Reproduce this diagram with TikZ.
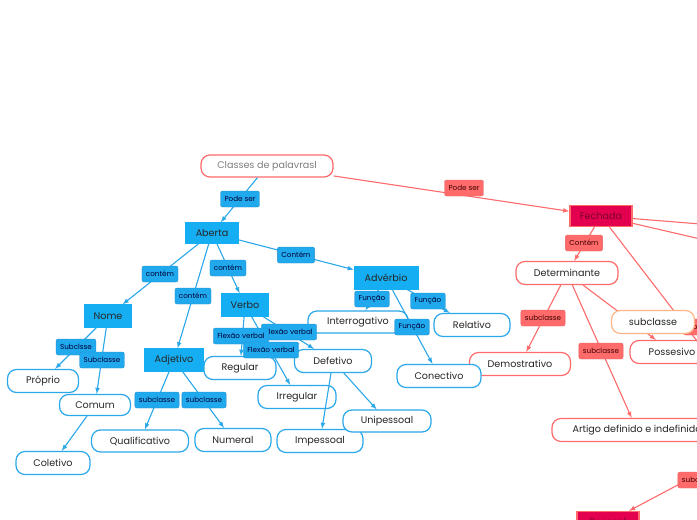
\documentclass[tikz,border=0pt]{standalone}
\usepackage{fontspec}
\setmainfont{Poppins}
\definecolor{bluefill}{HTML}{16AEF2}
\definecolor{blueline}{HTML}{2AA8EA}
\definecolor{bluetag}{HTML}{21A9EE}
\definecolor{redline}{HTML}{FF6B6B}
\definecolor{crimson}{HTML}{E3004F}
\definecolor{orangeline}{HTML}{FFB585}
\definecolor{darktext}{HTML}{262626}

\begin{document}
\begin{tikzpicture}[x=1pt,y=-1pt,
    every node/.style={font=\fontsize{9.6}{11}\selectfont, text=darktext, inner sep=2pt, minimum height=23pt},
    boxblue/.style={fill=bluefill, draw=bluefill},
    boxcrimson/.style={fill=crimson, draw=redline, line width=1.4pt, text=crimson!55!black},
    pillblue/.style={draw=blueline, fill=white, line width=1.2pt, rounded corners=9pt},
    pillred/.style={draw=redline, fill=white, line width=1.2pt, rounded corners=9pt},
    tagblue/.style={fill=bluetag, draw=blueline!85!black, line width=0.3pt, rounded corners=2pt,
        font=\fontsize{7.2}{8}\selectfont, text=black!80!blue, minimum height=16pt, inner xsep=4pt},
    tagred/.style={tagblue, fill=redline, draw=redline!90!black, text=red!25!black},
    tagorange/.style={pillred, draw=orangeline},
    linkblue/.style={draw=blueline, line width=1.1pt, -latex},
    linkred/.style={draw=redline, line width=1.1pt, -latex}]

  % page
  \useasboundingbox (0,0) rectangle (697,520);
  \fill[white] (0,0) rectangle (697,520);
  \clip (0,0) rectangle (697,520);

  % root and closed class
  \node[pillred, minimum width=132pt, minimum height=22pt, text=black!50] (classes) at (267,166) {Classes de palavrasl};
  \node[pillred, minimum width=102pt] (determinante) at (567,273) {Determinante};
  \node[pillred, minimum width=101pt] (demostrativo) at (520,364) {Demostrativo};
  \node[pillred, minimum width=84pt] (possesivo) at (672,352) {Possesivo};
  \node[pillred, minimum width=170pt] (artigo) at (637,430) {Artigo definido e indefinido};
  \node[boxcrimson, minimum width=62pt, minimum height=21pt] (fechada) at (601,216) {Fechada};
  \node[boxcrimson, minimum width=62pt, minimum height=21pt] (pessoal) at (608,522) {Pessoal};

  % open class
  \node[boxblue, minimum width=53pt, minimum height=21pt] (aberta) at (212,233) {Aberta};
  \node[boxblue, minimum width=64pt] (adverbio) at (386,278) {Advérbio};
  \node[boxblue, minimum width=47pt] (verbo) at (245,305) {Verbo};
  \node[boxblue, minimum width=47pt] (nome) at (108,316) {Nome};
  \node[boxblue, minimum width=59pt] (adjetivo) at (174,360) {Adjetivo};
  \node[pillblue, minimum width=71pt] (proprio) at (43,381) {Próprio};
  \node[pillblue, minimum width=71pt, minimum height=21pt] (comum) at (95,405) {Comum};
  \node[pillblue, minimum width=74pt] (coletivo) at (53,463) {Coletivo};
  \node[pillblue, minimum width=97pt, minimum height=22pt] (qualificativo) at (140,441) {Qualificativo};
  \node[pillblue, minimum width=76pt] (numeral) at (233,440) {Numeral};
  \node[pillblue, minimum width=72pt] (regular) at (240,368) {Regular};
  \node[pillblue, minimum width=78pt] (irregular) at (297,397) {Irregular};
  \node[pillblue, minimum width=77pt] (defetivo) at (333,361) {Defetivo};
  \node[pillblue, minimum width=86pt] (impessoal) at (320,441) {Impessoal};
  \node[pillblue, minimum width=88pt, minimum height=22pt] (unipessoal) at (387,421) {Unipessoal};
  \node[pillblue, minimum width=100pt, minimum height=22pt] (interrogativo) at (358,322) {Interrogativo};
  \node[pillblue, minimum width=76pt] (relativo) at (472,325) {Relativo};
  \node[pillblue, minimum width=84pt] (conectivo) at (439,376) {Conectivo};

  % ends outside the page
  \coordinate (offa) at (800,232);
  \coordinate (offb) at (800,262);
  \coordinate (offd) at (740,397);
  \coordinate (offe) at (740,452);

  % draw links
  \draw[linkblue] (classes) -- (aberta);
  \draw[linkred] (classes) -- (fechada);
  \draw[linkblue] (aberta) -- (adverbio);
  \draw[linkblue] (aberta) -- (nome);
  \draw[linkblue] (aberta) -- (verbo);
  \draw[linkblue] (aberta) -- (adjetivo);
  \draw[linkblue] (nome) -- (proprio);
  \draw[linkblue] (nome) -- (comum);
  \draw[linkblue] (comum) -- (coletivo);
  \draw[linkblue] (adjetivo) -- (qualificativo);
  \draw[linkblue] (adjetivo) -- (numeral);
  \draw[linkblue] (verbo) -- (regular);
  \draw[linkblue] (verbo) -- (irregular);
  \draw[linkblue] (verbo) -- (defetivo);
  \draw[linkblue] (defetivo) -- (impessoal);
  \draw[linkblue] (defetivo) -- (unipessoal);
  \draw[linkblue] (adverbio) -- (interrogativo);
  \draw[linkblue] (adverbio) -- (relativo);
  \draw[linkblue] (adverbio) -- (conectivo);
  \draw[linkred] (fechada) -- (determinante);
  \draw[linkred] (determinante) -- (demostrativo);
  \draw[linkred] (determinante) -- (artigo);
  \draw[linkred] (determinante) -- (possesivo);
  \draw[linkred] (fechada) -- (offa);
  \draw[linkred] (fechada) -- (offb);
  \draw[linkred] (fechada) -- (offd);
  \draw[linkred] (offe) -- (pessoal);

  % draw link labels
  \node[tagblue] (podeser1) at (240,199) {Pode ser};
  \node[tagred] (podeser2) at (464,188) {Pode ser};
  \node[tagblue] (contem1) at (296,255) {Contém};
  \node[tagblue] (contem2) at (160,274) {contém};
  \node[tagblue] (contem3) at (228,268) {contém};
  \node[tagblue] (contem4) at (193,296) {contém};
  \node[tagblue] (subclsse) at (76,347) {Subclsse};
  \node[tagblue] (subclasse1) at (102,360) {Subclasse};
  \node[tagblue] (subclasse2) at (157,400) {subclasse};
  \node[tagblue] (subclasse3) at (204,400) {subclasse};
  \node[tagblue] (flexao2) at (289,332) {Flexão verbal};
  \node[tagblue] (flexao1) at (241,336) {Flexão verbal};
  \node[tagblue] (flexao3) at (271,350) {Flexão verbal};
  \node[tagblue] (funcao1) at (372,299) {Função};
  \node[tagblue] (funcao2) at (428,301) {Função};
  \node[tagblue] (funcao3) at (412,327) {Função};
  \node[tagred] (contem5) at (584,243) {Contém};
  \node[tagred] (subclasse4) at (543,318) {subclasse};
  \node[tagred] (subclasse5) at (601,351) {subclasse};
  \node[tagred] (contem6) at (702,327) {Contém};
  \node[tagred] (subclasse7) at (700,480) {subclasse};
  \node[tagorange, minimum width=83pt] (subclasse6) at (653,322) {subclasse};
\end{tikzpicture}
\end{document}
